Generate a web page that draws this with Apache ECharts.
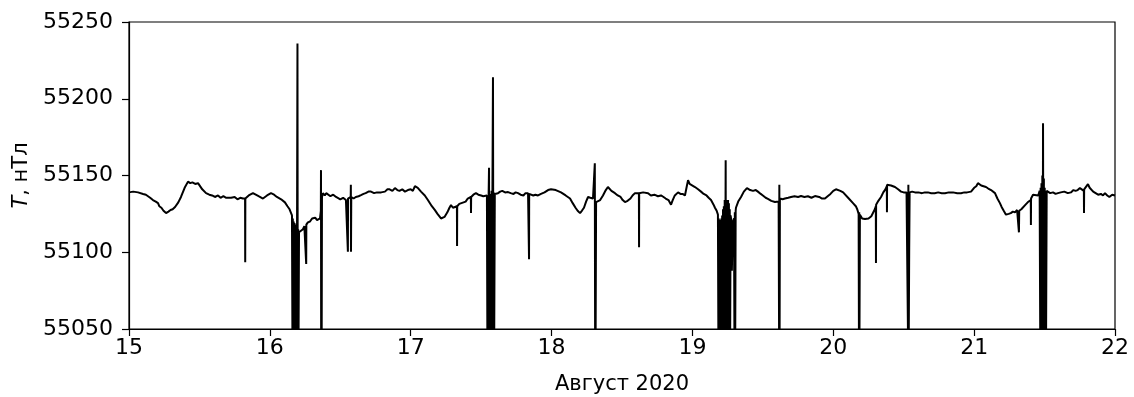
<!DOCTYPE html>
<html>
<head>
<meta charset="utf-8">
<script src="https://cdn.jsdelivr.net/npm/echarts@6/dist/echarts.min.js"></script>
<style>
html,body{margin:0;padding:0;background:#fff;}
#chart{width:1134px;height:397px;}
</style>
</head>
<body>
<div id="chart"></div>
<script>
// Tick labels
var xTicks = [15, 16, 17, 18, 19, 20, 21, 22];
var yTicks = [55050, 55100, 55150, 55200, 55250];
var xLabel = 'Август 2020';
var yLabel = 'T, нТл';

// Magnetic field T (nT), [day of August 2020, value]
var day15 = [
 [15.000,55139],[15.030,55139.5],[15.064,55139],[15.100,55138],[15.120,55137.5],[15.135,55136.5],[15.150,55135.5],[15.170,55134],
 [15.190,55133],[15.206,55132],[15.215,55130],[15.230,55129],[15.245,55127],[15.263,55125.5],[15.280,55126.5],[15.295,55127.5],
 [15.310,55128],[15.327,55129.5],[15.350,55132.5],[15.369,55136],[15.395,55142],[15.419,55146],[15.435,55145],[15.450,55145.5],
 [15.470,55144.5],[15.490,55145],[15.520,55141],[15.547,55138.5],[15.570,55137.5],[15.590,55137],[15.610,55136],[15.632,55137],
 [15.650,55135.5],[15.670,55136.5],[15.690,55135.5],[15.703,55136.5],[15.725,55135.5],[15.750,55136],[15.770,55134.5],[15.790,55135.5],
 [15.809,55135],[15.824,55135],[15.825,55093.5],[15.826,55135],[15.850,55137],[15.880,55138.5],[15.920,55136.5],[15.951,55135],
 [15.980,55137],[16.008,55138.5]
];
var day16 = [
 [16.030,55137.5],[16.050,55136],[16.080,55134.5],[16.107,55132.5],[16.125,55130],[16.140,55128],[16.157,55124],
 [16.160,55050],[16.163,55122],[16.166,55050],[16.169,55120],[16.172,55050],[16.175,55119],[16.178,55050],[16.181,55118],
 [16.184,55050],[16.187,55117],[16.190,55050],[16.193,55116],[16.196,55236],[16.198,55050],[16.201,55115],[16.204,55050],[16.207,55113],
 [16.221,55112.5],[16.235,55115],[16.245,55117],[16.257,55118],[16.258,55092.3],[16.259,55118],[16.270,55119.5],[16.285,55120],
 [16.300,55122],[16.310,55121.5],[16.322,55122.5],[16.335,55121],[16.345,55122],[16.356,55122],[16.362,55127],[16.363,55153.5],
 [16.364,55050],[16.366,55130],[16.368,55050],[16.370,55136],[16.377,55138.5],[16.390,55137],[16.400,55138.5],[16.413,55138],
 [16.430,55136.5],[16.450,55137.5],[16.470,55136],[16.484,55136],[16.500,55134.5],[16.520,55135.5],[16.540,55134],[16.553,55135],
 [16.554,55100.3],[16.555,55135],[16.574,55136],[16.575,55144],[16.576,55100.3],[16.578,55136],[16.595,55135],[16.610,55136],
 [16.630,55136.5],[16.647,55137.2],[16.665,55138],[16.680,55138.5],[16.700,55139.5],[16.718,55139.5],[16.740,55138.5],[16.760,55139],
 [16.790,55139],[16.817,55139.5],[16.835,55141],[16.850,55141],[16.870,55140],[16.888,55141.8],[16.905,55140.5],[16.920,55140],
 [16.940,55141],[16.959,55139.5],[16.980,55140.5],[17.000,55141]
];
var day17 = [
 [17.015,55140],[17.030,55143],[17.050,55142],[17.073,55139.5],[17.100,55137],[17.123,55133.9],[17.150,55130],[17.172,55127.4],
 [17.190,55125],[17.200,55124],[17.215,55122],[17.229,55121],[17.240,55123],[17.260,55126],[17.275,55129],[17.286,55130.7],
 [17.300,55129],[17.310,55128.5],[17.328,55130],[17.329,55104],[17.330,55130],[17.345,55131.5],[17.357,55130.7],[17.375,55132.5],
 [17.390,55133],[17.405,55135],[17.415,55134],[17.427,55136],[17.428,55125.5],[17.429,55136],[17.445,55137.5],[17.463,55138.5],
 [17.480,55137.5],[17.500,55137],[17.515,55136.5],[17.527,55136],[17.541,55137],
 [17.544,55050],[17.547,55136],[17.550,55050],[17.553,55137],[17.556,55155],[17.559,55050],[17.562,55135],[17.565,55050],
 [17.568,55138],[17.571,55050],[17.574,55140],[17.577,55050],[17.580,55138],[17.584,55214],[17.587,55050],[17.590,55139],
 [17.593,55050],[17.597,55138],
 [17.620,55138.5],[17.635,55139.5],[17.650,55140],[17.670,55139],[17.691,55139.2],[17.710,55138.5],[17.730,55138],[17.745,55139],
 [17.762,55138.5],[17.780,55137.5],[17.800,55137],[17.815,55138.5],[17.833,55138.5],[17.839,55138],[17.840,55095.5],[17.841,55138],
 [17.855,55137.5],[17.870,55137],[17.885,55137.5],[17.904,55137],[17.925,55138],[17.950,55139],[17.975,55140.5],[17.996,55141]
];
var day18 = [
 [18.030,55140.5],[18.067,55139],[18.100,55137],[18.131,55135],[18.150,55132],[18.170,55129],[18.185,55127],[18.202,55125.5],
 [18.215,55127],[18.230,55129],[18.245,55133],[18.259,55136],[18.275,55135.5],[18.294,55135],[18.305,55134],[18.307,55158],
 [18.309,55050],[18.311,55132],[18.313,55050],[18.316,55132.7],[18.330,55132.7],[18.345,55134],[18.365,55137],[18.385,55140.5],
 [18.400,55142.5],[18.425,55140],[18.450,55138.5],[18.470,55137],[18.490,55136],[18.505,55134],[18.521,55132.7],[18.540,55133.5],
 [18.560,55135],[18.575,55137],[18.592,55138.5],[18.620,55138.5],[18.621,55103.3],[18.622,55138.5],[18.650,55139],[18.685,55138.5],
 [18.705,55137],[18.730,55137.5],[18.755,55136.5],[18.777,55137],[18.795,55136],[18.810,55135],[18.830,55134],[18.848,55131],
 [18.860,55134],[18.875,55137],[18.898,55139],[18.915,55138],[18.930,55138],[18.947,55137],[18.960,55143],[18.969,55147],
 [18.980,55144.5],[18.990,55144]
];
var day19 = [
 [19.018,55142.5],[19.040,55141],[19.061,55139.5],[19.080,55138],[19.100,55137],[19.115,55135.5],[19.132,55134],[19.150,55131],
 [19.160,55129],[19.172,55127],[19.181,55124.5],
 [19.184,55050],[19.187,55122],[19.190,55050],[19.193,55121],[19.196,55050],[19.199,55121],[19.202,55050],[19.205,55122],
 [19.208,55050],[19.211,55124],[19.214,55050],[19.217,55128],[19.220,55050],[19.223,55130],[19.226,55050],[19.229,55134],
 [19.232,55050],[19.236,55160],[19.238,55050],[19.241,55134],[19.244,55050],[19.247,55134],[19.250,55050],[19.253,55134],
 [19.256,55050],[19.259,55132],[19.262,55050],[19.265,55128],[19.268,55050],[19.271,55124],[19.274,55122],
 [19.280,55088],[19.286,55120],[19.295,55122],[19.298,55050],[19.301,55126],[19.304,55050],[19.307,55127],[19.309,55129],
 [19.325,55133],[19.345,55136],[19.365,55139.5],[19.387,55141.8],[19.410,55140.5],[19.430,55140],[19.450,55140.5],[19.465,55139.5],
 [19.485,55138],[19.500,55137],[19.520,55135.5],[19.536,55134.8],[19.560,55133.5],[19.586,55132.7],[19.612,55133],
 [19.615,55050],[19.617,55144],[19.619,55050],[19.621,55135],[19.640,55134.5],[19.657,55135],[19.680,55135.5],[19.700,55136],
 [19.725,55136.5],[19.750,55136],[19.771,55136.6],[19.795,55136],[19.820,55136.5],[19.845,55135.5],[19.870,55136.6],[19.900,55136],
 [19.920,55135],[19.941,55135],[19.960,55136.5],[19.980,55138]
];
var day20 = [
 [20.000,55140],[20.019,55141],[20.050,55140],[20.070,55139],[20.083,55138.5],[20.110,55135],[20.140,55132],[20.160,55130],
 [20.170,55128],[20.180,55125],[20.182,55050],[20.184,55126],[20.186,55050],[20.189,55124.5],[20.205,55122],[20.225,55121.6],
 [20.250,55122],[20.270,55123.5],[20.282,55124.5],[20.295,55128],[20.302,55130],[20.303,55093],[20.304,55131],[20.320,55133.5],
 [20.339,55136],[20.355,55139],[20.370,55141],[20.380,55143],[20.381,55126],[20.382,55144],[20.388,55144.4],[20.410,55143.5],
 [20.438,55142.5],[20.460,55141],[20.481,55139.5],[20.500,55139],[20.520,55139],[20.528,55140],[20.530,55050],[20.533,55144],
 [20.536,55050],[20.539,55103],[20.542,55139],[20.560,55139.5],[20.580,55139],[20.605,55139],[20.630,55138.5],[20.650,55139],
 [20.672,55139],[20.695,55138.5],[20.720,55138.5],[20.745,55139],[20.770,55138.5],[20.793,55138.5],[20.820,55139],[20.850,55139],
 [20.880,55138.5],[20.907,55138.5],[20.930,55139],[20.950,55139],[20.978,55139.5]
];
var day21 = [
 [21.000,55142],[21.015,55143],[21.027,55145],[21.050,55143.5],[21.084,55142.5],[21.100,55141.5],[21.120,55140.5],[21.148,55138.5],
 [21.165,55135],[21.183,55132],[21.195,55129.5],[21.210,55127],[21.226,55124.5],[21.245,55125],[21.260,55125.5],[21.275,55126.5],
 [21.290,55126],[21.305,55127.5],[21.316,55127],[21.318,55113],[21.320,55127],[21.335,55128],[21.347,55129],[21.365,55131],
 [21.382,55132.7],[21.402,55134],[21.403,55117.7],[21.404,55135],[21.418,55137.5],[21.432,55138.5],[21.455,55137],[21.465,55140],
 [21.469,55050],[21.472,55142],[21.475,55050],[21.478,55145],[21.481,55050],[21.484,55150],[21.487,55050],[21.489,55184],
 [21.492,55050],[21.495,55148],[21.498,55050],[21.501,55142],[21.504,55050],[21.508,55140],[21.511,55050],[21.515,55140],
 [21.524,55139.5],[21.540,55138.5],[21.560,55139],[21.578,55138],[21.595,55138.5],[21.615,55139],[21.640,55139.5],[21.665,55138.5],
 [21.687,55139],[21.705,55140.5],[21.720,55140],[21.735,55140.5],[21.751,55141.8],[21.765,55140.5],[21.779,55140],[21.780,55125.5],
 [21.781,55141],[21.795,55142],[21.808,55144.4],[21.820,55142],[21.830,55141],[21.845,55139.5],[21.858,55139],[21.880,55137.5],
 [21.900,55138],[21.915,55137],[21.929,55138.5],[21.945,55137],[21.960,55136],[21.980,55137.5],[22.000,55137]
];

var fieldData = [].concat(day15, day16, day17, day18, day19, day20, day21);

var FONT = 'DejaVu Sans';
var chart = echarts.init(document.getElementById('chart'), null, {renderer: 'canvas'});
chart.setOption({
  animation: false,
  backgroundColor: '#ffffff',
  grid: {left: 129, right: 19, top: 22, bottom: 68, containLabel: false, outerBoundsMode: 'none',
         show: true, borderColor: '#000', borderWidth: 1.2, backgroundColor: 'transparent'},
  xAxis: {
    type: 'value', min: xTicks[0], max: xTicks[xTicks.length - 1], interval: 1,
    name: xLabel, nameLocation: 'middle', nameGap: 45,
    nameTextStyle: {fontFamily: FONT, fontSize: 21, color: '#000'},
    axisLine: {show: true, lineStyle: {color: '#000', width: 1.2}},
    axisTick: {show: true, inside: false, length: 7, lineStyle: {color: '#000', width: 1.2}},
    axisLabel: {fontFamily: FONT, fontSize: 22, color: '#000', margin: 8, formatter: function (v) { return String(v); }},
    splitLine: {show: false}
  },
  yAxis: {
    type: 'value', min: yTicks[0], max: yTicks[yTicks.length - 1], interval: 50,
    name: '{i|T}, нТл', nameLocation: 'middle', nameGap: 96, nameRotate: 90,
    nameTextStyle: {fontFamily: FONT, fontSize: 21, color: '#000', rich: {i: {fontFamily: FONT, fontSize: 21, fontStyle: 'italic', color: '#000'}}},
    axisLine: {show: true, lineStyle: {color: '#000', width: 1.2}},
    axisTick: {show: true, inside: false, length: 7, lineStyle: {color: '#000', width: 1.2}},
    axisLabel: {fontFamily: FONT, fontSize: 22, color: '#000', margin: 16, formatter: function (v) { return String(v); }},
    splitLine: {show: false}
  },
  series: [{
    type: 'line', data: fieldData, showSymbol: false, symbol: 'none',
    lineStyle: {color: '#000', width: 2}, clip: true
  }]
});
</script>
</body>
</html>
